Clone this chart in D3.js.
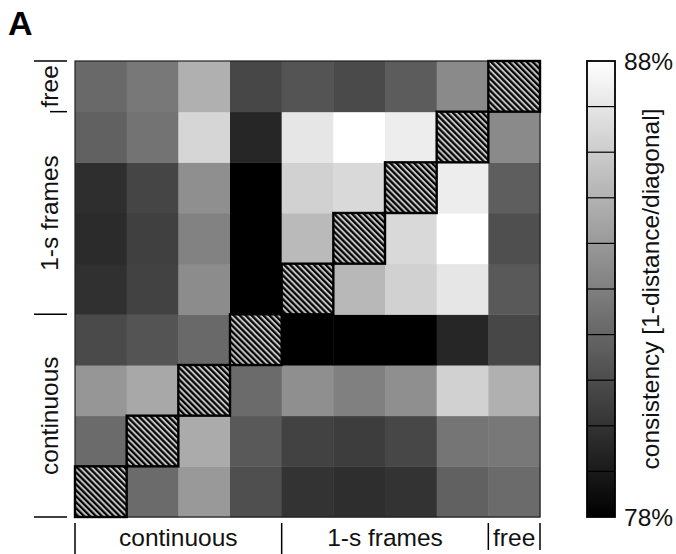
<!DOCTYPE html>
<html>
<head>
<meta charset="utf-8">
<script src="https://cdn.jsdelivr.net/npm/d3@7"></script>
<style>
  html, body { margin: 0; padding: 0; background: #fff; }
  svg { display: block; font-family: "Liberation Sans", Arial, Helvetica, sans-serif; }
</style>
</head>
<body>
<svg id="chart" width="676" height="554"></svg>
<script>
// ---------------- data ----------------
// conditions, bottom row / left column first
const conditions = [0, 1, 2, 3, 4, 5, 6, 7, 8];
const groupLabels = ["continuous", "1-s frames", "free"];
const groupSizes = [4, 4, 1];
// consistency (%) : row = condition (bottom -> top), column = condition (left -> right); diagonal = null
const consistency = [
  [null, 82.2, 84.0, 81.1, 80.0, 79.8, 80.0, 81.8, 82.2],
  [82.2, null, 84.7, 81.5, 80.6, 80.4, 80.8, 82.6, 82.7],
  [83.9, 84.6, null, 82.2, 83.6, 83.0, 83.6, 86.2, 84.9],
  [80.9, 81.3, 82.1, null, 78.0, 78.0, 78.0, 79.5, 80.8],
  [79.9, 80.6, 83.5, 78.0, null, 85.2, 86.2, 87.0, 81.5],
  [79.7, 80.5, 83.1, 78.0, 85.3, null, 86.5, 88.0, 81.1],
  [79.8, 80.7, 83.6, 78.0, 86.2, 86.5, null, 87.3, 81.7],
  [81.8, 82.5, 86.4, 79.5, 87.0, 88.0, 87.3, null, 83.4],
  [82.1, 82.7, 84.9, 80.8, 81.3, 80.9, 81.6, 83.4, null]
];
const colorDomain = [78, 88];
const colorTickValues = [78, 88];
const colorTickLabels = ["78%", "88%"];
const colorbarTitle = "consistency [1-distance/diagonal]";
const panelLabel = "A";

// ---------------- layout ----------------
const svg = d3.select("#chart");
const hm = { left: 75, right: 540, top: 61, bottom: 517 };
const cb = { left: 587, right: 615, top: 61, bottom: 517 };
const fontSize = 24.5;

const x = d3.scaleBand().domain(conditions).range([hm.left, hm.right]).padding(0);
const y = d3.scaleBand().domain(conditions).range([hm.bottom, hm.top]).padding(0);
const color = d3.scaleLinear().domain(colorDomain).range(["#000000", "#ffffff"]).clamp(true);

// hatch pattern
const defs = svg.append("defs");
const P = 4.2;
const pat = defs.append("pattern")
  .attr("id", "hatch")
  .attr("patternUnits", "userSpaceOnUse")
  .attr("width", P).attr("height", P)
  .attr("patternTransform", "rotate(-45)");
pat.append("rect").attr("width", P).attr("height", P).attr("fill", "#c2c2c2");
pat.append("rect").attr("width", 2.2).attr("height", P).attr("fill", "#000");

// cells
const cells = [];
consistency.forEach((row, i) => row.forEach((v, j) => cells.push({ row: i, col: j, v })));

const g = svg.append("g");
g.selectAll("rect.cell")
  .data(cells.filter(d => d.v !== null))
  .join("rect")
  .attr("class", "cell")
  .attr("x", d => x(d.col))
  .attr("y", d => y(d.row))
  .attr("width", x.bandwidth() + 0.5)
  .attr("height", y.bandwidth() + 0.5)
  .attr("fill", d => color(d.v));

// outer frame
g.append("rect")
  .attr("x", hm.left).attr("y", hm.top)
  .attr("width", hm.right - hm.left).attr("height", hm.bottom - hm.top)
  .attr("fill", "none").attr("stroke", "#222").attr("stroke-width", 1.2);

// diagonal hatched cells
g.selectAll("rect.diag")
  .data(cells.filter(d => d.v === null))
  .join("rect")
  .attr("class", "diag")
  .attr("x", d => x(d.col))
  .attr("y", d => y(d.row))
  .attr("width", x.bandwidth())
  .attr("height", y.bandwidth())
  .attr("fill", "url(#hatch)")
  .attr("stroke", "#000").attr("stroke-width", 2.4);

// group boundaries
const bounds = [0];
groupSizes.forEach(s => bounds.push(bounds[bounds.length - 1] + s));
const xEdge = k => k < conditions.length ? x(conditions[k]) : x(conditions[conditions.length - 1]) + x.bandwidth();
const yEdge = k => k < conditions.length ? y(conditions[k]) + y.bandwidth() : y(conditions[conditions.length - 1]);

// left group labels and ticks
const axL = svg.append("g");
bounds.forEach((k) => {
  const yy = yEdge(k);
  const short = (k === bounds[bounds.length - 2]);
  axL.append("line")
    .attr("x1", short ? 50 : 34).attr("x2", 67)
    .attr("y1", yy).attr("y2", yy)
    .attr("stroke", "#000").attr("stroke-width", 1.5);
});
groupLabels.forEach((lab, gi) => {
  const yc = (yEdge(bounds[gi]) + yEdge(bounds[gi + 1])) / 2;
  axL.append("text")
    .attr("transform", `translate(58,${yc}) rotate(-90)`)
    .attr("text-anchor", "middle")
    .attr("font-size", fontSize)
    .attr("fill", "#111")
    .text(lab);
});

// bottom group labels and ticks
const axB = svg.append("g");
bounds.forEach((k) => {
  const xx = xEdge(k);
  const short = (k >= bounds[bounds.length - 2]);
  axB.append("line")
    .attr("x1", xx).attr("x2", xx)
    .attr("y1", 523).attr("y2", short ? 550 : 554)
    .attr("stroke", "#000").attr("stroke-width", 1.5);
});
groupLabels.forEach((lab, gi) => {
  const xc = (xEdge(bounds[gi]) + xEdge(bounds[gi + 1])) / 2;
  axB.append("text")
    .attr("x", xc).attr("y", 546)
    .attr("text-anchor", "middle")
    .attr("font-size", fontSize)
    .attr("fill", "#111")
    .text(lab);
});

// colorbar
const cy = d3.scaleLinear().domain(colorDomain).range([cb.bottom, cb.top]);
const grad = defs.append("linearGradient")
  .attr("id", "cbgrad").attr("x1", 0).attr("y1", 1).attr("x2", 0).attr("y2", 0);
grad.append("stop").attr("offset", "0%").attr("stop-color", color(colorDomain[0]));
grad.append("stop").attr("offset", "100%").attr("stop-color", color(colorDomain[1]));
const cbg = svg.append("g");
cbg.append("rect")
  .attr("x", cb.left).attr("y", cb.top)
  .attr("width", cb.right - cb.left).attr("height", cb.bottom - cb.top)
  .attr("fill", "url(#cbgrad)");
cbg.selectAll("line.div")
  .data(d3.range(colorDomain[0] + 1, colorDomain[1]))
  .join("line")
  .attr("class", "div")
  .attr("x1", cb.left).attr("x2", cb.right)
  .attr("y1", d => cy(d)).attr("y2", d => cy(d))
  .attr("stroke", "#000").attr("stroke-width", 1.2);
cbg.append("rect")
  .attr("x", cb.left).attr("y", cb.top)
  .attr("width", cb.right - cb.left).attr("height", cb.bottom - cb.top)
  .attr("fill", "none").attr("stroke", "#000").attr("stroke-width", 1.8);
cbg.selectAll("text.tick")
  .data(colorTickValues)
  .join("text")
  .attr("class", "tick")
  .attr("x", 624)
  .attr("y", d => cy(d))
  .attr("dy", "0.35em")
  .attr("font-size", fontSize)
  .attr("fill", "#111")
  .text((d, i) => colorTickLabels[i]);
cbg.append("text")
  .attr("transform", `translate(659,${(cb.top + cb.bottom) / 2}) rotate(-90)`)
  .attr("text-anchor", "middle")
  .attr("font-size", fontSize)
  .attr("fill", "#111")
  .text(colorbarTitle);

// panel label
svg.append("text")
  .attr("x", 8).attr("y", 35)
  .attr("font-size", 34)
  .attr("font-weight", "bold")
  .attr("fill", "#000")
  .text(panelLabel);
</script>
</body>
</html>
